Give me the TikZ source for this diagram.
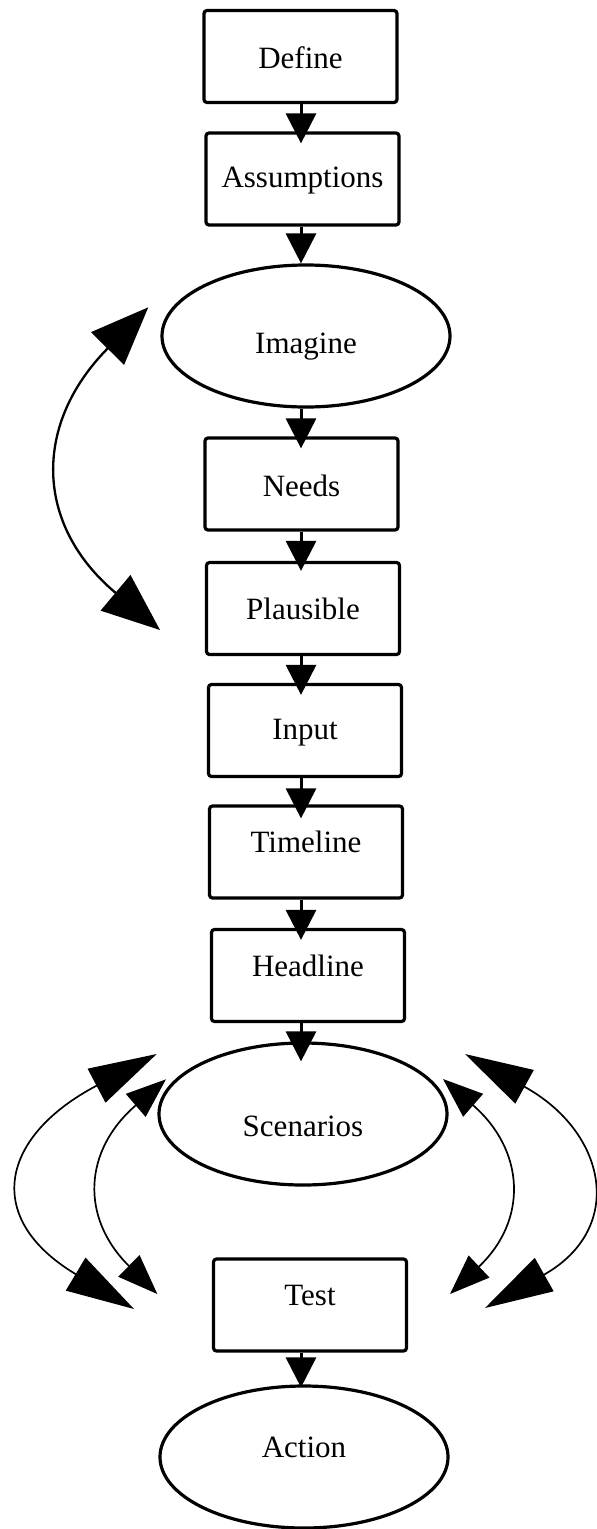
\documentclass[tikz,border=0pt]{standalone}
\usepackage{fontspec}
\setmainfont{Liberation Serif}
\usetikzlibrary{shapes.geometric,arrows.meta,calc}

\begin{document}
\begin{tikzpicture}[x=1pt,y=-1pt,
  every node/.style={font=\fontsize{31}{37}\selectfont},
  stepbox/.style={draw, line width=3.2pt, rounded corners=3pt,
    minimum width=193pt, minimum height=92pt, inner sep=0pt},
  oval/.style={ellipse, draw, line width=3.2pt,
    minimum width=288pt, minimum height=142pt, inner sep=0pt},
  lift/.style={text height=#1pt, text depth=0pt},
  flow/.style={line width=3pt, -{Triangle[length=30pt,width=30pt]}},
  loopbig/.style={line width=2.3pt,
    {Triangle[length=58pt,width=46pt]}-{Triangle[length=58pt,width=46pt]}},
  loopouter/.style={line width=1.7pt,
    {Triangle[length=68pt,width=38pt]}-{Triangle[length=68pt,width=38pt]}},
  loopinner/.style={line width=1.7pt,
    {Triangle[length=40pt,width=30pt]}-{Triangle[length=40pt,width=30pt]}}
]
\useasboundingbox (0,0) rectangle (597,1529);

% main chain of steps
\node[stepbox, lift=23] (define)   at (300.5,56.5) {Define};
\node[stepbox, lift=16] (assump)   at (302.5,179)  {Assumptions};
\node[oval,    lift=34] (imagine)  at (306,336)    {Imagine};
\node[stepbox, lift=24] (needs)    at (301.5,484)  {Needs};
\node[stepbox, lift=21] (plaus)    at (303,608.5)  {Plausible};
\node[stepbox, lift=17] (input)    at (305,730.5)  {Input};
\node[stepbox, lift=0]  (timeline) at (306,852)    {Timeline};
\node[stepbox, lift=1]  (headline) at (308,975.5)  {Headline};
\node[oval,    lift=44] (scen)     at (303,1114)   {Scenarios};
\node[stepbox, lift=0]  (test)     at (310,1305)   {Test};
\node[oval,    lift=0]  (action)   at (304,1457)   {Action};

% column of the downward connectors
\coordinate (ax) at (301,0);

\draw[flow] (define.south -| ax)   -- ($(assump.north -| ax)+(0,12)$);
\draw[flow] (assump.south -| ax)   -- (imagine.north -| ax);
\draw[flow] (imagine.south -| ax)  -- ($(needs.north -| ax)+(0,12)$);
\draw[flow] (needs.south -| ax)    -- ($(plaus.north -| ax)+(0,10)$);
\draw[flow] (plaus.south -| ax)    -- ($(input.north -| ax)+(0,12)$);
\draw[flow] (input.south -| ax)    -- ($(timeline.north -| ax)+(0,14)$);
\draw[flow] (timeline.south -| ax) -- ($(headline.north -| ax)+(0,12)$);
\draw[flow] (headline.south -| ax) -- ($(scen.north -| ax)+(0,20)$);
\draw[flow] (test.south -| ax)     -- ($(action.north -| ax)+(0,3)$);

% loop between Imagine and Plausible
\coordinate (imtop) at (148.3,307.3);
\coordinate (imbot) at (160,630);
\draw[loopbig] (imtop) .. controls (33,423.9) and (34.2,524.7) .. (imbot);

% loops between Scenarios and Test
\coordinate (oltop) at (156.7,1054);
\coordinate (olbot) at (134,1309);
\coordinate (iltop) at (166,1079.3);
\coordinate (ilbot) at (157.3,1294);
\coordinate (irtop) at (443,1079);
\coordinate (irbot) at (450,1294);
\coordinate (ortop) at (465,1054);
\coordinate (orbot) at (485,1308);

\draw[loopouter] (oltop) .. controls (0.2,1136.4) and (-17.7,1218.3) .. (olbot);
\draw[loopinner] (iltop) .. controls (83.5,1150.3) and (79.9,1217.5) .. (ilbot);
\draw[loopinner] (irtop) .. controls (524.7,1150.2) and (528.6,1219.6) .. (irbot);
\draw[loopouter] (ortop) .. controls (606.9,1132.1) and (626.1,1228.3) .. (orbot);
\end{tikzpicture}
\end{document}
